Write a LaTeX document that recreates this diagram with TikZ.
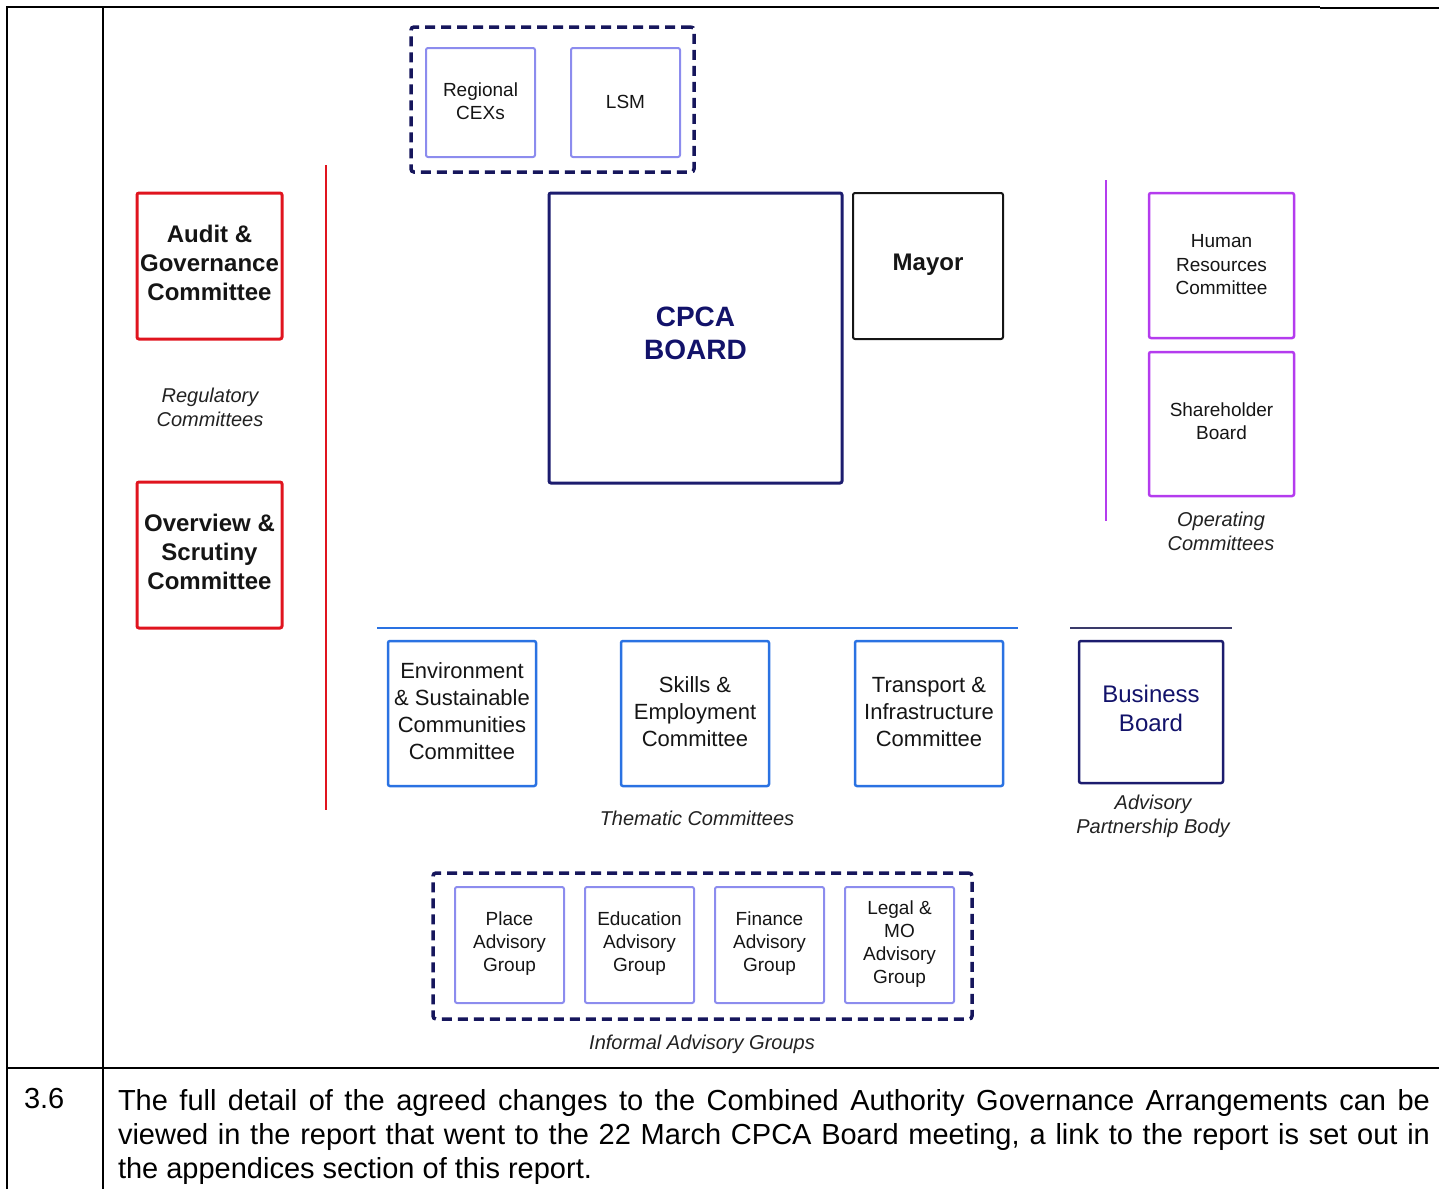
\documentclass[tikz,border=0pt]{standalone}
\usepackage{fontspec}
\setmainfont{Liberation Sans}
\definecolor{txt}{HTML}{151515}
\definecolor{capc}{HTML}{222222}
\definecolor{navy}{HTML}{16165C}
\definecolor{navyb}{HTML}{1C1C6E}
\definecolor{navyt}{HTML}{12126A}
\definecolor{lav}{HTML}{8C8CEE}
\definecolor{redc}{HTML}{E0141E}
\definecolor{purc}{HTML}{B43CEE}
\definecolor{bluec}{HTML}{2A72E2}
\definecolor{greyn}{HTML}{3A3A6A}
\tikzset{
  base/.style={inner sep=0pt, outer sep=0pt, align=center, text=txt},
  redbox/.style={base, draw=redc, line width=3pt, rounded corners=2pt, minimum width=145pt, minimum height=146pt, text depth=6pt, font=\fontsize{24}{29}\selectfont\bfseries},
  lavbox/.style={base, draw=lav, line width=2pt, rounded corners=2pt, text depth=6pt, font=\fontsize{19}{23}\selectfont},
  purbox/.style={base, draw=purc, line width=2.5pt, rounded corners=2pt, minimum width=145pt, minimum height=145pt, font=\fontsize{19}{23.5}\selectfont},
  bluebox/.style={base, draw=bluec, line width=2.5pt, rounded corners=2pt, minimum width=148pt, minimum height=145pt, text depth=4pt, font=\fontsize{22}{27}\selectfont},
  dashbox/.style={draw=navy, line width=3.5pt, dash pattern=on 10pt off 6pt, rounded corners=3pt, inner sep=0pt, outer sep=0pt},
  capt/.style={inner sep=0pt, outer sep=0pt, align=center, text=capc, font=\fontsize{20}{24}\selectfont\itshape},
  tabline/.style={draw=black, line width=2pt},
  bodytxt/.style={inner sep=0pt, outer sep=0pt, anchor=base west, text=black, font=\fontsize{29}{34}\selectfont},
}
\begin{document}
\begin{tikzpicture}[x=1pt,y=-1pt]
\useasboundingbox (0,0) rectangle (1439,1189);
% table frame
\coordinate (tl) at (7,7);
\coordinate (bl) at (7,1189);
\coordinate (ct) at (103,7);
\coordinate (cb) at (103,1189);
\coordinate (t1) at (117,7);
\coordinate (t2) at (1320,7);
\coordinate (t3) at (1320,8);
\coordinate (t4) at (1439,8);
\coordinate (h1) at (7,1068);
\coordinate (h2) at (1439,1068);
\draw[tabline] (bl) -- (tl) -- (t1);
\draw[tabline] (ct) -- (cb);
\draw[draw=black, line width=1.5pt] (t1) -- (t2);
\draw[draw=black, line width=2.5pt] (t3) -- (t4);
\draw[tabline] (h1) -- (h2);

% top dashed group
\node[dashbox, minimum width=283pt, minimum height=145pt] (topgrp) at (552.5,99.5) {};
\node[lavbox, text depth=2pt, minimum width=109pt, minimum height=109pt] (cex) at (480.5,102.5) {Regional\\CEXs};
\node[lavbox, text depth=2pt, minimum width=109pt, minimum height=109pt] (lsm) at (625.5,102.5) {LSM};

% regulatory
\node[redbox] (audit) at (209.5,266) {Audit \&\\Governance\\Committee};
\node[redbox] (overview) at (209.5,555) {Overview \&\\Scrutiny\\Committee};
\node[capt] (regcap) at (210,407) {Regulatory\\Committees};
\coordinate (r1) at (326,165);
\coordinate (r2) at (326,810);
\draw[draw=redc, line width=2pt] (r1) -- (r2);

% board and mayor
\node[base, draw=navyb, line width=3pt, rounded corners=2pt, minimum width=293pt, minimum height=290pt, text depth=10pt, text=navyt, font=\fontsize{28}{33}\selectfont\bfseries] (cpca) at (695.5,338) {CPCA\\BOARD};
\node[base, draw=txt, line width=2pt, rounded corners=2pt, minimum width=150pt, minimum height=146pt, text depth=7pt, font=\fontsize{24}{29}\selectfont\bfseries] (mayor) at (928,266) {Mayor};

% operating
\coordinate (p1) at (1106,180);
\coordinate (p2) at (1106,521);
\draw[draw=purc, line width=2pt] (p1) -- (p2);
\node[purbox, text depth=2pt] (hr) at (1221.5,265.5) {Human\\Resources\\Committee};
\node[purbox, text depth=6pt, minimum height=144pt] (share) at (1221.5,424) {Shareholder\\Board};
\node[capt] (opcap) at (1221,531) {Operating\\Committees};

% thematic
\coordinate (b1) at (377,628);
\coordinate (b2) at (1018,628);
\draw[draw=bluec, line width=2pt] (b1) -- (b2);
\node[bluebox] (env) at (462,713.5) {Environment\\\& Sustainable\\Communities\\Committee};
\node[bluebox] (skills) at (695,713.5) {Skills \&\\Employment\\Committee};
\node[bluebox] (transport) at (929,713.5) {Transport \&\\Infrastructure\\Committee};
\node[capt] (themcap) at (697,818) {Thematic Committees};

% business board
\coordinate (n1) at (1070,628);
\coordinate (n2) at (1232,628);
\draw[draw=greyn, line width=2pt] (n1) -- (n2);
\node[base, draw=navyb, line width=2.5pt, rounded corners=2pt, minimum width=144pt, minimum height=142pt, text depth=8pt, text=navyt, font=\fontsize{24}{29}\selectfont] (business) at (1151,712) {Business\\Board};
\node[capt] (advcap) at (1153,816) {Advisory\\Partnership Body};

% informal advisory groups
\node[dashbox, minimum width=539pt, minimum height=146pt] (botgrp) at (702.5,946) {};
\node[lavbox, minimum width=109pt, minimum height=116pt] (place) at (509.5,945) {Place\\Advisory\\Group};
\node[lavbox, minimum width=109pt, minimum height=116pt] (edu) at (639.5,945) {Education\\Advisory\\Group};
\node[lavbox, minimum width=109pt, minimum height=116pt] (fin) at (769.5,945) {Finance\\Advisory\\Group};
\node[lavbox, minimum width=109pt, minimum height=116pt] (legal) at (899.5,945) {Legal \&\\MO\\Advisory\\Group};
\node[capt] (infcap) at (702,1044) {Informal Advisory Groups};

% paragraph 3.6
\node[bodytxt] (num) at (24,1108) {3.6};
\node[bodytxt] (l1) at (118,1110) {\makebox[1312pt][s]{The full detail of the agreed changes to the Combined Authority Governance Arrangements can be}};
\node[bodytxt] (l2) at (118,1144) {\makebox[1312pt][s]{viewed in the report that went to the 22 March CPCA Board meeting, a link to the report is set out in}};
\node[bodytxt] (l3) at (118,1178) {the appendices section of this report.};
\end{tikzpicture}
\end{document}
